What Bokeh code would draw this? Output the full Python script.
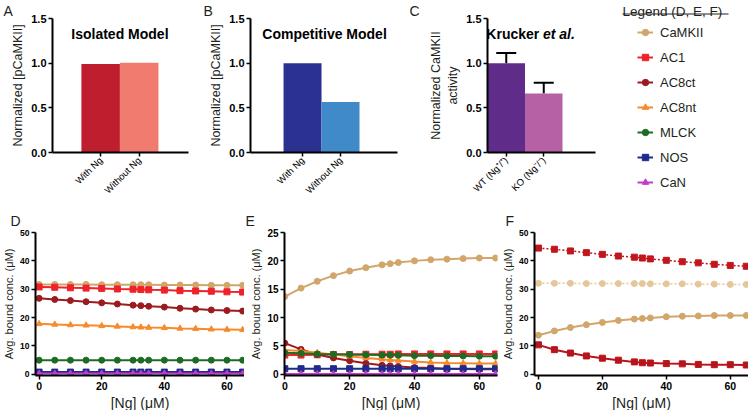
import math
from bokeh.plotting import figure
from bokeh.layouts import column, row
from bokeh.models import (Range1d, FixedTicker, Label, Whisker, ColumnDataSource, Title,
                          Legend, LegendItem, TeeHead, PrintfTickFormatter)
from bokeh.embed import file_html
from bokeh.resources import INLINE

FONT = "Liberation Sans"
TXT = "#231F20"
NAN = float("nan")

# ---------------- data ----------------
a_labels = ["With Ng", "Without Ng"]
a_values = [0.99, 1.005]
a_colors = ["#BE1E2D", "#F27B6F"]

b_labels = ["With Ng", "Without Ng"]
b_values = [1.0, 0.565]
b_colors = ["#2B3190", "#418AC9"]

c_labels = ["WT (Ng⁺/⁺)", "KO (Ng⁻/⁻)"]
c_values = [1.0, 0.66]
c_errors = [0.115, 0.12]
c_colors = ["#5F2C8A", "#B660A6"]

bar_ticks = [0.0, 0.5, 1.0, 1.5]

ng = [0, 5, 10, 15, 20, 25, 30, 32.5, 35, 40, 45, 50, 55, 60, 65]

species = ["CaMKII", "AC1", "AC8ct", "AC8nt", "MLCK", "NOS", "CaN"]
sp_colors = ["#D2A66A", "#EE2229", "#9B1B1E", "#F68B2C", "#1E6B24", "#1F2A8C", "#C43DC8"]
sp_markers = ["circle", "square", "circle", "triangle", "circle", "square", "triangle"]

d_camkii = [31.7, 31.7, 31.7, 31.7, 31.6, 31.6, 31.6, 31.6, 31.6, 31.5, 31.5, 31.5, 31.4, 31.4, 31.4]
d_ac1 = [30.8, 30.7, 30.5, 30.4, 30.3, 30.1, 30.0, 29.9, 29.8, 29.7, 29.5, 29.4, 29.3, 29.1, 29.0]
d_ac8ct = [26.8, 26.4, 26.0, 25.6, 25.2, 24.8, 24.4, 24.2, 24.0, 23.7, 23.3, 23.0, 22.7, 22.5, 22.3]
d_ac8nt = [17.8, 17.6, 17.4, 17.3, 17.1, 16.9, 16.7, 16.6, 16.5, 16.4, 16.2, 16.1, 15.9, 15.8, 15.7]
d_mlck = [5.0, 5.0, 5.0, 5.0, 5.0, 5.0, 5.0, 5.0, 5.0, 5.0, 5.0, 5.0, 5.0, 5.0, 5.0]
d_nos = [0.8, 0.8, 0.8, 0.8, 0.8, 0.8, 0.8, 0.8, 0.8, 0.8, 0.8, 0.8, 0.8, 0.8, 0.8]
d_can = [0.3, 0.3, 0.3, 0.3, 0.3, 0.3, 0.3, 0.3, 0.3, 0.3, 0.3, 0.3, 0.3, 0.3, 0.3]

e_camkii = [13.7, 15.2, 16.4, 17.4, 18.2, 18.8, 19.3, 19.5, 19.7, 20.0, 20.2, 20.3, 20.4, 20.5, 20.5]
e_ac1 = [3.4, 3.4, 3.45, 3.5, 3.5, 3.55, 3.55, 3.55, 3.6, 3.6, 3.6, 3.6, 3.6, 3.6, 3.6]
e_ac8ct = [5.5, 4.4, 3.5, 2.9, 2.4, 1.95, 1.6, 1.5, 1.4, 1.2, 1.1, 1.0, 0.95, 0.9, 0.9]
e_ac8nt = [4.3, 4.1, 3.8, 3.5, 3.2, 2.9, 2.65, 2.55, 2.45, 2.25, 2.1, 2.0, 1.95, 1.9, 1.9]
e_mlck = [3.8, 3.7, 3.6, 3.55, 3.5, 3.45, 3.4, 3.4, 3.35, 3.3, 3.3, 3.25, 3.25, 3.2, 3.2]
e_nos = [1.0, 1.0, 1.0, 1.0, 1.0, 1.0, 1.0, 1.0, 1.0, 1.0, 1.0, 1.0, 1.0, 1.0, 1.0]
e_can = [0.05, 0.05, 0.05, 0.05, 0.05, 0.05, 0.05, 0.05, 0.05, 0.05, 0.05, 0.05, 0.05, 0.05, 0.05]

f_camkii_dotted = [32.1, 32.1, 32.1, 32.0, 32.0, 32.0, 32.0, 32.0, 31.9, 31.9, 31.9, 31.8, 31.8, 31.7, 31.7]
f_ac_dotted = [44.5, 44.1, 43.5, 42.9, 42.3, 41.7, 41.3, 41.0, 40.7, 40.2, 39.7, 39.3, 38.8, 38.4, 38.1]
f_camkii = [13.8, 15.3, 16.5, 17.5, 18.3, 19.0, 19.5, 19.7, 19.9, 20.3, 20.5, 20.6, 20.75, 20.75, 20.75]
f_ac = [10.4, 8.7, 7.5, 6.5, 5.7, 5.0, 4.4, 4.1, 4.0, 3.8, 3.7, 3.5, 3.4, 3.4, 3.3]

d_series = [d_camkii, d_ac1, d_ac8ct, d_ac8nt, d_mlck, d_nos, d_can]
e_series = [e_camkii, e_ac1, e_ac8ct, e_ac8nt, e_mlck, e_nos, e_can]


def no_align(p):
    if "frame_align" in p.properties():
        p.frame_align = False


def style(p, ytick_size, xtick_size):
    p.xgrid.visible = False
    p.ygrid.visible = False
    p.outline_line_color = None
    p.background_fill_color = "white"
    p.border_fill_color = "white"
    for ax in list(p.xaxis) + list(p.yaxis):
        ax.axis_line_width = 2
        ax.axis_line_color = "black"
        ax.major_tick_line_width = 1.5
        ax.major_tick_line_color = "black"
        ax.major_tick_out = 4
        ax.major_tick_in = 0
        ax.minor_tick_line_color = None
        ax.major_label_text_font = FONT
        ax.major_label_text_font_style = "bold"
        ax.major_label_text_color = "black"
        ax.major_label_standoff = 2
        ax.axis_label_text_font = FONT
        ax.axis_label_text_font_style = "normal"
        ax.axis_label_text_color = TXT
        ax.axis_label_standoff = 3
    p.yaxis.major_label_text_font_size = ytick_size
    p.xaxis.major_label_text_font_size = xtick_size


def letter(p, txt, offset, standoff):
    p.title.text = txt
    p.title.align = "left"
    p.title.offset = offset
    p.title.standoff = standoff
    p.title.text_font = FONT
    p.title.text_font_size = "14px"
    p.title.text_font_style = "normal"
    p.title.text_color = TXT


def panel_title(p, x, y, txt, align="center", style_="bold"):
    p.add_layout(Label(x=x, y=y, text=txt, text_font=FONT, text_font_size="14px",
                       text_font_style=style_, text_color="black", text_align=align,
                       text_baseline="middle"))


H1 = 202
H2 = 208


def bar_fig(width, bl, br, labels, values, colors, xr, ylabel):
    p = figure(width=width, height=H1, x_range=Range1d(*xr), y_range=Range1d(0, 1.5),
               output_backend="svg", toolbar_location=None,
               min_border_left=bl, min_border_right=br, min_border_top=14, min_border_bottom=44)
    idx = list(range(len(labels)))
    p.vbar(x=idx, top=values, width=1.0, fill_color=colors, line_color=None)
    style(p, "11px", "9.5px")
    p.xaxis.ticker = FixedTicker(ticks=idx)
    p.xaxis.major_label_overrides = {i: lab for i, lab in enumerate(labels)}
    p.xaxis.major_label_orientation = math.pi / 4
    p.xaxis.major_label_text_font_style = "normal"
    p.yaxis.ticker = FixedTicker(ticks=bar_ticks)
    p.yaxis.formatter = PrintfTickFormatter(format="%.1f")
    p.yaxis.axis_label = ylabel
    p.yaxis.axis_label_text_font_size = "12.5px"
    return p


# ---- A ----
pA = bar_fig(200, 52, 12, a_labels, a_values, a_colors, (-1.25, 2.28), "Normalized [pCaMKII]")
panel_title(pA, 0.5, 1.33, "Isolated Model")
letter(pA, "A", -49, 0)

# ---- B ----
pB = bar_fig(204, 50, 7, b_labels, b_values, b_colors, (-1.37, 2.5), "Normalized [pCaMKII]")
panel_title(pB, 0.58, 1.33, "Competitive Model")
letter(pB, "B", -47, 0)

# ---- C ----
pC = bar_fig(208, 83, 17, c_labels, c_values, c_colors, (-0.5, 2.38), "Normalized CaMKII\nactivity")
c_idx = list(range(len(c_labels)))
err_src = ColumnDataSource(dict(x=c_idx, lower=c_values,
                                upper=[v + e for v, e in zip(c_values, c_errors)]))
pC.add_layout(Whisker(source=err_src, base="x", lower="lower", upper="upper", dimension="height",
                      line_color="black", line_width=2, lower_head=None,
                      upper_head=TeeHead(size=20, line_width=2, line_color="black")))
panel_title(pC, 0.88, 1.33, "Krucker", align="right")
panel_title(pC, 0.98, 1.33, "et al.", align="left", style_="bold italic")
letter(pC, "C", -78, 0)

# ---- legend panel ----
pL = figure(width=136, height=H1, x_range=Range1d(0, 133), y_range=Range1d(H1, 0),
            output_backend="svg", toolbar_location=None, title=None,
            min_border_left=3, min_border_right=0, min_border_top=0, min_border_bottom=0,
            x_axis_location=None, y_axis_location=None)
no_align(pL)
pL.xgrid.visible = False
pL.ygrid.visible = False
pL.outline_line_color = None
items = []
for name, col, mk in zip(species, sp_colors, sp_markers):
    r1 = pL.line(x=[NAN], y=[NAN], line_color=col, line_width=2)
    r2 = pL.scatter(x=[NAN], y=[NAN], marker=mk, size=6, fill_color=col, line_color=col)
    items.append(LegendItem(label=name, renderers=[r1, r2]))
leg = Legend(items=items, location="top_left", padding=0, margin=22, spacing=5,
             glyph_width=16, glyph_height=16, label_height=20, label_standoff=7,
             label_text_font=FONT, label_text_font_size="13px", label_text_color=TXT,
             border_line_color=None, background_fill_alpha=0)
pL.add_layout(leg)
pL.add_layout(Label(x=7, y=11, text="Legend (D, E, F)", text_font=FONT,
                    text_font_size="13.5px", text_color=TXT, text_baseline="alphabetic",
                    text_align="left"))
pL.segment(x0=[7], y0=[13.5], x1=[113], y1=[13.5], line_color=TXT, line_width=1)


# ---------------- bottom row ----------------
def line_fig(width, bl, br, xr, yr, yticks, ytick_size):
    p = figure(width=width, height=H2, x_range=Range1d(*xr), y_range=Range1d(*yr),
               output_backend="svg", toolbar_location=None,
               min_border_left=bl, min_border_right=br, min_border_top=30, min_border_bottom=30)
    no_align(p)
    style(p, ytick_size, "10.5px")
    p.xaxis.ticker = FixedTicker(ticks=[0, 20, 40, 60])
    p.yaxis.ticker = FixedTicker(ticks=yticks)
    p.add_layout(Title(text="[Ng] (μM)", align="center", standoff=0, text_font=FONT,
                       text_font_size="14px", text_font_style="normal", text_color=TXT), "below")
    p.yaxis.axis_label = "Avg. bound conc. (μM)"
    p.yaxis.axis_label_text_font_size = "11px"
    p.yaxis.axis_label_standoff = 2
    return p


def series(p, y, col, mk, dash="solid", lw=2, size=6):
    p.line(ng, y, line_color=col, line_width=lw, line_dash=dash)
    p.scatter(ng, y, marker=mk, size=size, fill_color=col, line_color=col)


pD = line_fig(244, 28, 0, (-1.15, 65.6), (-0.4, 50), [0, 10, 20, 30, 40, 50], "8.5px")
for ys, col, mk in zip(d_series, sp_colors, sp_markers):
    series(pD, ys, col, mk)
letter(pD, "D", -25, 7)

pE = line_fig(255, 40, 2, (-0.1, 65.6), (-0.2, 25), [0, 5, 10, 15, 20, 25], "10px")
for ys, col, mk in zip(e_series, sp_colors, sp_markers):
    series(pE, ys, col, mk)
letter(pE, "E", -39, 7)

pF = line_fig(249, 32, 0, (-1.23, 65.7), (-0.4, 50), [0, 10, 20, 30, 40, 50], "8.5px")
series(pF, f_ac_dotted, "#C0161E", "square", dash="2 2", lw=1.5)
series(pF, f_camkii_dotted, "#E3C79A", "circle", dash="2 2", lw=1.5)
series(pF, f_camkii, sp_colors[0], "circle")
series(pF, f_ac, "#B8141C", "square")
letter(pF, "F", -29, 7)

layout = column(row(pA, pB, pC, pL), row(pD, pE, pF))
open("out.html", "w").write(file_html(layout, INLINE))
